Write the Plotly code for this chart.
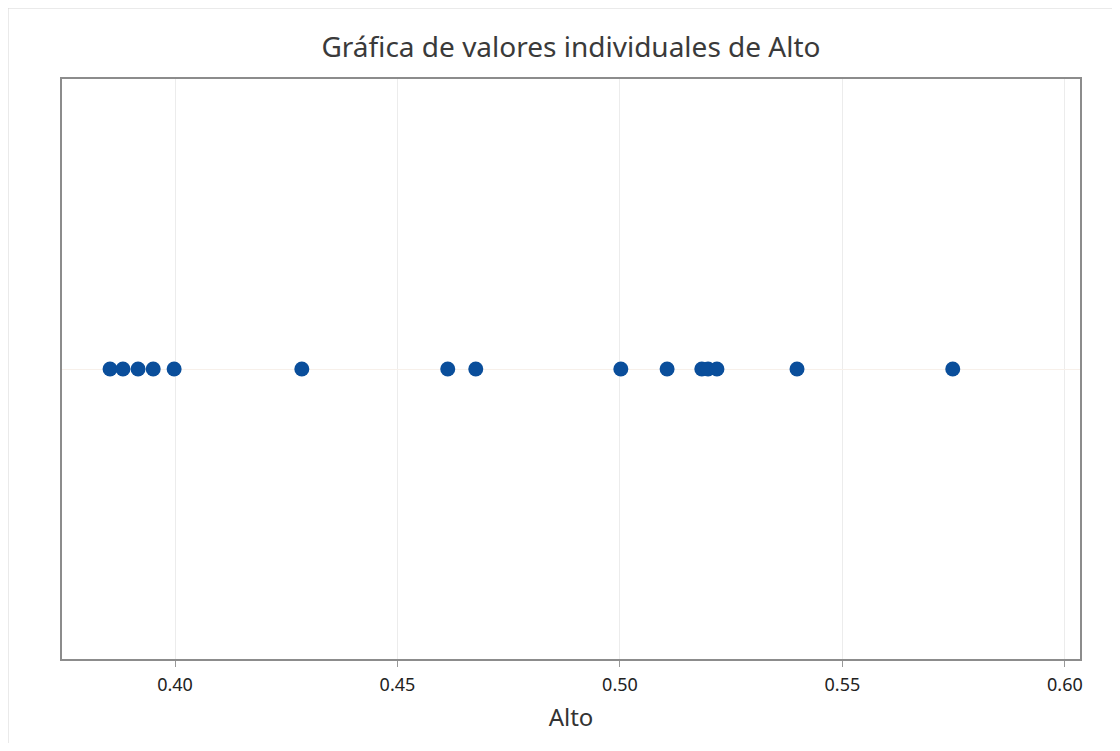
import plotly.graph_objects as go

alto = [0.3854, 0.3883, 0.3917, 0.3951, 0.3998, 0.4285, 0.4613, 0.4676,
        0.5002, 0.5106, 0.5184, 0.5198, 0.5218, 0.5398, 0.5748]
tick_vals = [0.40, 0.45, 0.50, 0.55, 0.60]
tick_text = ["0.40", "0.45", "0.50", "0.55", "0.60"]

W, H = 1104, 735
ml, mr, mt, mb = 54, 32, 71, 84
pw, ph = W - ml - mr, H - mt - mb

fig = go.Figure()
fig.add_trace(go.Scatter(
    x=alto, y=[0.5] * len(alto), mode="markers",
    marker=dict(color="#0A4E9B", size=15, line=dict(width=0)),
    showlegend=False, hoverinfo="x"))

fig.update_layout(
    width=W, height=H,
    margin=dict(l=ml, r=mr, t=mt, b=mb),
    paper_bgcolor="white", plot_bgcolor="white",
    font=dict(family="Noto Sans", color="#333333"),
    title=dict(text="Gráfica de valores individuales de Alto",
               x=0.5, xref="paper", xanchor="center", y=1 - 39 / H, yanchor="middle",
               font=dict(size=28, color="#3a3a3a")),
    xaxis=dict(range=[0.3746, 0.6034], tickvals=tick_vals, ticktext=tick_text,
               showgrid=True, gridcolor="#ececec", gridwidth=1,
               ticks="outside", ticklen=6, tickcolor="#999999",
               ticklabelstandoff=2,
               tickfont=dict(size=18, color="#222222"),
               showline=True, linecolor="#8c8c8c", linewidth=2, mirror=True,
               zeroline=False,
               title=dict(text="Alto", font=dict(size=24, color="#333333"), standoff=15)),
    yaxis=dict(range=[0, 1], tickvals=[0.5], showticklabels=False,
               showgrid=True, gridcolor="#f7f0ea", gridwidth=1, ticks="",
               showline=True, linecolor="#8c8c8c", linewidth=2, mirror=True,
               zeroline=False),
)

fig.add_shape(type="rect", xref="paper", yref="paper",
              x0=-ml / pw, x1=(W + 20 - ml) / pw,
              y0=-(mb + 20) / ph, y1=1 + mt / ph,
              line=dict(color="#d6d6d6", width=1), layer="below")

fig.write_html("out.html")
